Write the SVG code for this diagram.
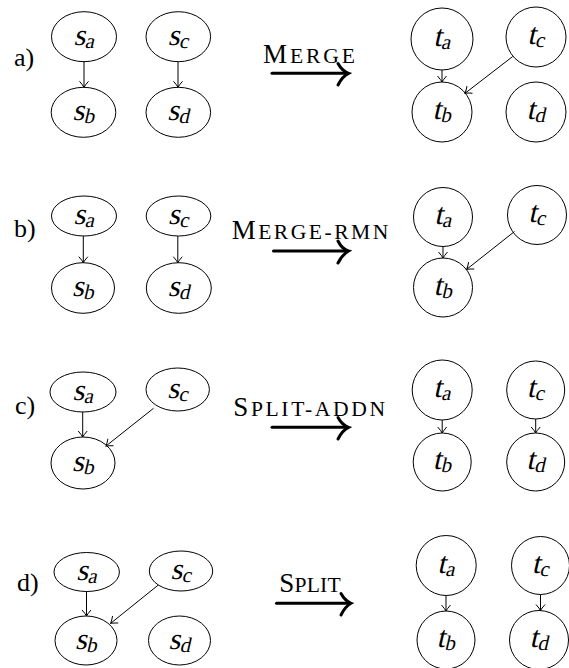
<svg xmlns="http://www.w3.org/2000/svg" width="569" height="668" viewBox="0 0 569 668">
<style>
.n{fill:#fff;stroke:#000;stroke-width:1}
.lb{font-family:"Liberation Serif",serif;font-size:30px;text-anchor:middle;fill:#000}
.sub{font-size:21px}
.pl{font-family:"Liberation Serif",serif;font-size:26px;fill:#000}
.op{font-family:"Liberation Serif",serif;font-size:27px;fill:#000}
.sc{font-size:21.6px}
.e{stroke:#000;stroke-width:1;fill:none;marker-end:url(#ah)}
.big{stroke:#000;stroke-width:3;fill:none;stroke-linecap:round}
</style>
<defs>
<marker id="ah" markerUnits="userSpaceOnUse" viewBox="-7 -6 8 12" markerWidth="8" markerHeight="12" refX="0" refY="0" orient="auto" overflow="visible">
<path d="M-6,-4.5 Q-2,-1 0,0 Q-2,1 -6,4.5" fill="none" stroke="#000" stroke-width="1"/>
</marker>
</defs>

<!-- panel labels -->
<g id="labels">
<text class="pl" x="14" y="66">a)</text>
<text class="pl" x="14" y="237">b)</text>
<text class="pl" x="15" y="414">c)</text>
<text class="pl" x="17" y="591">d)</text>
</g>

<!-- operation labels and big arrows -->
<g id="op-a">
<text class="op" x="263" y="63" textLength="92" lengthAdjust="spacing">M<tspan class="sc">ERGE</tspan></text>
<path class="big" d="M272,73.3 H347"/>
<path class="big" d="M338,63.5 C341,69 345,72 348.5,73.3 C345,75 341,79 338,85"/>
</g>
<g id="op-b">
<text class="op" x="231.7" y="239" textLength="156.6" lengthAdjust="spacing">M<tspan class="sc">ERGE-RMN</tspan></text>
<path class="big" d="M273.5,251 H347"/>
<path class="big" d="M338,241 C341,247 345,250 348.5,251 C345,253 341,257 338,263"/>
</g>
<g id="op-c">
<text class="op" x="233.3" y="416" textLength="151.7" lengthAdjust="spacing">S<tspan class="sc">PLIT-ADDN</tspan></text>
<path class="big" d="M272,427.3 H347"/>
<path class="big" d="M338,417.5 C341,423 345,426 348.5,427.3 C345,429 341,433 338,439"/>
</g>
<g id="op-d">
<text class="op" x="279.3" y="592" textLength="61.4" lengthAdjust="spacing">S<tspan class="sc">PLIT</tspan></text>
<path class="big" d="M276.5,603.3 H349.5"/>
<path class="big" d="M341,593.5 C344,599 348,602 351,603.3 C348,605 344,609 341,615"/>
</g>

<!-- panel a -->
<g id="a-sa"><ellipse class="n" cx="84" cy="36.7" rx="32.5" ry="25"/><text class="lb" transform="translate(84,44.7) skewX(-13)">s<tspan class="sub" dy="3">a</tspan></text></g>
<g id="a-sb"><ellipse class="n" cx="83.5" cy="112.3" rx="32.3" ry="25"/><text class="lb" transform="translate(83.5,120.3) skewX(-13)">s<tspan class="sub" dy="3">b</tspan></text></g>
<g id="a-sc"><ellipse class="n" cx="178.3" cy="36.7" rx="32.3" ry="25"/><text class="lb" transform="translate(178.3,44.7) skewX(-13)">s<tspan class="sub" dy="3">c</tspan></text></g>
<g id="a-sd"><ellipse class="n" cx="178.3" cy="112.3" rx="32.3" ry="25"/><text class="lb" transform="translate(178.3,120.3) skewX(-13)">s<tspan class="sub" dy="3">d</tspan></text></g>
<g id="a-ta"><circle class="n" cx="442" cy="39" r="31"/><text class="lb" transform="translate(442,46) skewX(-13)">t<tspan class="sub" dy="3">a</tspan></text></g>
<g id="a-tb"><circle class="n" cx="442" cy="112" r="30"/><text class="lb" transform="translate(442,119) skewX(-13)">t<tspan class="sub" dy="3">b</tspan></text></g>
<g id="a-tc"><circle class="n" cx="536" cy="37" r="30"/><text class="lb" transform="translate(536,44) skewX(-13)">t<tspan class="sub" dy="3">c</tspan></text></g>
<g id="a-td"><circle class="n" cx="536" cy="112" r="30"/><text class="lb" transform="translate(536,119) skewX(-13)">t<tspan class="sub" dy="3">d</tspan></text></g>

<!-- panel b -->
<g id="b-sa"><ellipse class="n" cx="84" cy="216" rx="32.5" ry="20"/><text class="lb" transform="translate(84,224) skewX(-13)">s<tspan class="sub" dy="3">a</tspan></text></g>
<g id="b-sb"><ellipse class="n" cx="83" cy="288" rx="31.5" ry="25.3"/><text class="lb" transform="translate(83,296) skewX(-13)">s<tspan class="sub" dy="3">b</tspan></text></g>
<g id="b-sc"><ellipse class="n" cx="178.5" cy="216" rx="32.3" ry="20"/><text class="lb" transform="translate(178.5,224) skewX(-13)">s<tspan class="sub" dy="3">c</tspan></text></g>
<g id="b-sd"><ellipse class="n" cx="178.8" cy="288" rx="32.5" ry="25.3"/><text class="lb" transform="translate(178.8,296) skewX(-13)">s<tspan class="sub" dy="3">d</tspan></text></g>
<g id="b-ta"><circle class="n" cx="443" cy="217" r="29.5"/><text class="lb" transform="translate(443,224) skewX(-13)">t<tspan class="sub" dy="3">a</tspan></text></g>
<g id="b-tb"><circle class="n" cx="443" cy="287.5" r="29.5"/><text class="lb" transform="translate(443,294.5) skewX(-13)">t<tspan class="sub" dy="3">b</tspan></text></g>
<g id="b-tc"><circle class="n" cx="537" cy="215" r="29.5"/><text class="lb" transform="translate(537,222) skewX(-13)">t<tspan class="sub" dy="3">c</tspan></text></g>

<!-- panel c -->
<g id="c-sa"><ellipse class="n" cx="83" cy="392" rx="33" ry="20"/><text class="lb" transform="translate(83,400) skewX(-13)">s<tspan class="sub" dy="3">a</tspan></text></g>
<g id="c-sb"><ellipse class="n" cx="83" cy="463" rx="32" ry="26"/><text class="lb" transform="translate(83,471) skewX(-13)">s<tspan class="sub" dy="3">b</tspan></text></g>
<g id="c-sc"><ellipse class="n" cx="177.7" cy="389.5" rx="31.7" ry="21.5"/><text class="lb" transform="translate(177.7,397.5) skewX(-13)">s<tspan class="sub" dy="3">c</tspan></text></g>
<g id="c-ta"><circle class="n" cx="442.2" cy="390" r="30"/><text class="lb" transform="translate(442.2,397) skewX(-13)">t<tspan class="sub" dy="3">a</tspan></text></g>
<g id="c-tb"><circle class="n" cx="442.2" cy="462" r="29"/><text class="lb" transform="translate(442.2,469) skewX(-13)">t<tspan class="sub" dy="3">b</tspan></text></g>
<g id="c-tc"><circle class="n" cx="535.7" cy="390" r="29"/><text class="lb" transform="translate(535.7,397) skewX(-13)">t<tspan class="sub" dy="3">c</tspan></text></g>
<g id="c-td"><circle class="n" cx="535.7" cy="462" r="29"/><text class="lb" transform="translate(535.7,469) skewX(-13)">t<tspan class="sub" dy="3">d</tspan></text></g>

<!-- panel d -->
<g id="d-sa"><ellipse class="n" cx="86.7" cy="572" rx="32.7" ry="19.5"/><text class="lb" transform="translate(86.7,580) skewX(-13)">s<tspan class="sub" dy="3">a</tspan></text></g>
<g id="d-sb"><ellipse class="n" cx="86" cy="640.5" rx="31" ry="24.5"/><text class="lb" transform="translate(86,648.5) skewX(-13)">s<tspan class="sub" dy="3">b</tspan></text></g>
<g id="d-sc"><ellipse class="n" cx="181" cy="571" rx="31.7" ry="20"/><text class="lb" transform="translate(181,579) skewX(-13)">s<tspan class="sub" dy="3">c</tspan></text></g>
<g id="d-sd"><ellipse class="n" cx="179.5" cy="640.5" rx="31" ry="24.5"/><text class="lb" transform="translate(179.5,648.5) skewX(-13)">s<tspan class="sub" dy="3">d</tspan></text></g>
<g id="d-ta"><circle class="n" cx="446.2" cy="565.5" r="30"/><text class="lb" transform="translate(446.2,572.5) skewX(-13)">t<tspan class="sub" dy="3">a</tspan></text></g>
<g id="d-tb"><circle class="n" cx="446" cy="640" r="29"/><text class="lb" transform="translate(446,647) skewX(-13)">t<tspan class="sub" dy="3">b</tspan></text></g>
<g id="d-tc"><circle class="n" cx="540.5" cy="565.5" r="29"/><text class="lb" transform="translate(540.5,572.5) skewX(-13)">t<tspan class="sub" dy="3">c</tspan></text></g>
<g id="d-td"><circle class="n" cx="539" cy="640" r="29.5"/><text class="lb" transform="translate(539,647) skewX(-13)">t<tspan class="sub" dy="3">d</tspan></text></g>

<!-- connectors -->
<g id="edges">
<line class="e" x1="84" y1="61.7" x2="84" y2="87.3"/>
<line class="e" x1="178" y1="61.7" x2="178" y2="87.3"/>
<line class="e" x1="442" y1="70" x2="442" y2="82"/>
<line class="e" x1="512.7" y1="56.5" x2="465" y2="93.3"/>

<line class="e" x1="83.3" y1="236" x2="83.3" y2="262.7"/>
<line class="e" x1="177.8" y1="236" x2="177.8" y2="262.7"/>
<line class="e" x1="443" y1="246.5" x2="443" y2="258"/>
<line class="e" x1="514.5" y1="231.5" x2="466.7" y2="269.3"/>

<line class="e" x1="82.7" y1="412" x2="82.7" y2="437"/>
<line class="e" x1="153.5" y1="408.3" x2="106" y2="446"/>
<line class="e" x1="442.2" y1="420" x2="442.2" y2="433"/>
<line class="e" x1="535.7" y1="419" x2="535.7" y2="433"/>

<line class="e" x1="86.5" y1="591.5" x2="86.5" y2="616"/>
<line class="e" x1="158.3" y1="585" x2="110.7" y2="623.3"/>
<line class="e" x1="446" y1="595.5" x2="446" y2="611"/>
<line class="e" x1="540.5" y1="594.5" x2="540.5" y2="610.5"/>
</g>
</svg>
